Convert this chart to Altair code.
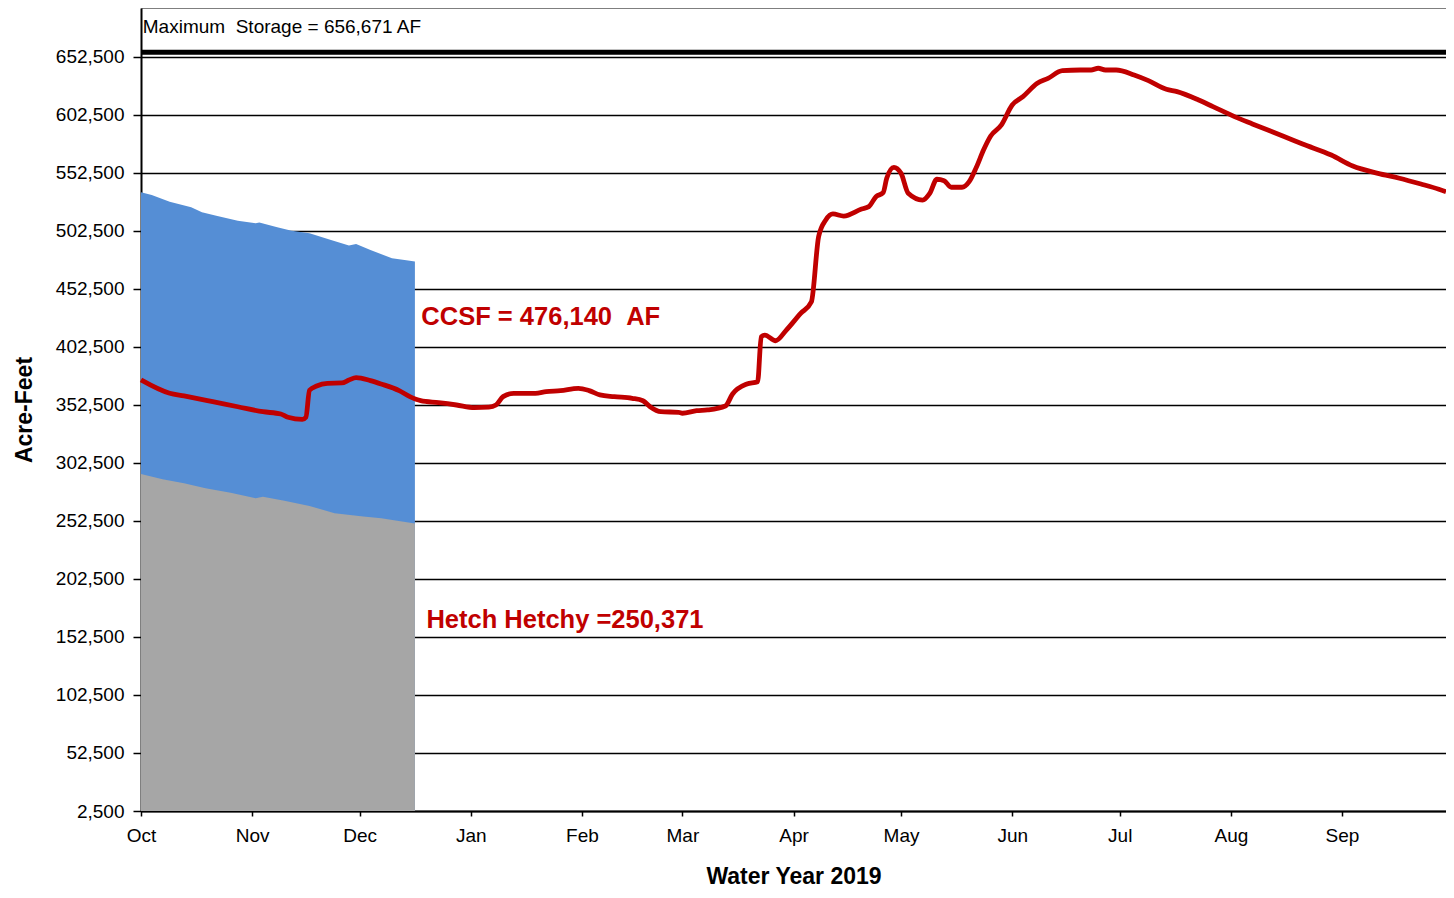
import altair as alt
import pandas as pd

START = pd.Timestamp("2018-10-01")

# CCSF storage line (day offset from Oct 1 2018, acre-feet)
ccsf_day = [0, 8, 12, 20, 27, 34, 39, 41, 45, 46, 47, 49, 52, 56, 58, 60, 64, 67, 72, 75,
            78, 83, 88, 93, 97, 99, 101, 104, 110, 113, 117, 122, 125, 128, 132, 137, 140,
            142, 145, 150, 151, 155, 158, 163, 165, 169, 172, 173, 174, 177, 180, 184, 187,
            189, 191, 193, 196, 201, 203, 205, 207, 208, 210, 212, 214, 218, 220, 222, 224,
            226, 229, 231, 233, 235, 237, 240, 243, 246, 250, 253, 257, 262, 265, 267, 269,
            272, 277, 281, 286, 289, 295, 299, 305, 310, 319, 324, 332, 338, 345, 351, 357,
            362, 364]
ccsf_af = [374100, 362600, 360300, 355400, 351000, 346700, 344700, 341900, 340100, 342000,
           365200, 368900, 371200, 371500, 374000, 376100, 373500, 370600, 364900, 359700,
           356200, 354500, 352500, 350200, 350600, 352500, 359700, 362600, 362600, 364000,
           364900, 366900, 364900, 361200, 359700, 358300, 356200, 351000, 346700, 346200,
           345400, 347600, 348200, 351600, 362000, 370600, 372600, 411400, 412800, 407900,
           417100, 431500, 441500, 497600, 512000, 517200, 515400, 521500, 523500, 532100,
           535500, 547900, 557400, 552200, 535000, 529200, 535000, 547100, 545900, 540200,
           540200, 545000, 557400, 572300, 584400, 593900, 611100, 618300, 629800, 634100,
           640700, 641300, 641300, 642800, 641300, 641300, 637000, 632100, 624700, 622600,
           615400, 609700, 601100, 594800, 583800, 577500, 568000, 558500, 552200, 548000,
           543000, 538500, 536400]

# Blue band top (CCSF total) and gray band top (Hetch Hetchy)
total_day = [0, 3, 8, 14, 17, 21, 27, 32, 33, 38, 42, 47, 53, 58, 60, 64, 70, 74, 76.4]
total_af = [535900, 533500, 527800, 522900, 518600, 515700, 511400, 509100, 509800, 505700,
            502800, 500500, 494700, 489900, 491300, 486100, 479000, 477200, 476140]
hh_day = [0, 6, 12, 18, 25, 32, 34, 40, 47, 54, 62, 67, 76.4]
hh_af = [293000, 288400, 285000, 280700, 276900, 272100, 273500, 270000, 265500, 259200,
         256300, 254900, 250371]

max_storage = 656671
y_ticks = list(range(2500, 652501, 50000))

NBSP = "\u00a0"
max_text = "Maximum" + NBSP + " Storage = 656,671 AF"
red_texts = ["CCSF = 476,140 " + NBSP + "AF", "Hetch Hetchy =250,371"]
red_days = [78.2, 79.6]
red_af = [428400, 167200]
max_text_day = 0.5
max_text_af = 678400


def dates(days):
    return [(START + pd.Timedelta(days=d)).strftime("%Y-%m-%dT%H:%M:%SZ") for d in days]


line_df = pd.DataFrame({"date": dates(ccsf_day), "af": ccsf_af})
total_df = pd.DataFrame({"date": dates(total_day), "af": total_af})
hh_df = pd.DataFrame({"date": dates(hh_day), "af": hh_af})
max_df = pd.DataFrame({"af": [max_storage]})
red_df = pd.DataFrame({"date": dates(red_days), "af": red_af, "text": red_texts})
maxt_df = pd.DataFrame({"date": dates([max_text_day]), "af": [max_text_af], "text": [max_text]})

FONT = "Liberation Sans"

xscale = alt.Scale(type="utc", domain=[alt.DateTime(year=2018, month=10, date=1, utc=True),
                                       alt.DateTime(year=2019, month=9, date=30, utc=True)])
yscale = alt.Scale(domain=[2500, 694741], nice=False, zero=False)

xenc = alt.X("date:T", scale=xscale, title="Water Year 2019",
             axis=alt.Axis(labelExpr="utcFormat(datum.value, '%b')",
                           tickCount=alt.TimeIntervalStep(interval="month", step=1),
                           grid=False, domainColor="black", domainWidth=2,
                           tickColor="black", tickWidth=1.5, tickSize=5,
                           labelPadding=10, labelFontSize=19, labelFont=FONT,
                           labelColor="black", labelAlign="center",
                           titleFont=FONT, titleFontSize=23, titleFontWeight="bold",
                           titleColor="black", titlePadding=20))
yenc = alt.Y("af:Q", scale=yscale, title="Acre-Feet",
             axis=alt.Axis(values=y_ticks, labelExpr="format(datum.value, ',')",
                           grid=True, gridColor="black",
                           gridWidth=1.5, domainColor="black", domainWidth=2,
                           tickColor="black", tickWidth=1.5, tickSize=8,
                           labelPadding=9, labelFontSize=19, labelFont=FONT,
                           labelColor="black",
                           titleFont=FONT, titleFontSize=23, titleFontWeight="bold",
                           titleColor="black", titlePadding=19))

blue = alt.Chart(total_df).mark_area(color="#558ed5", opacity=1, clip=True).encode(
    x=xenc, y=yenc)
gray = alt.Chart(hh_df).mark_area(color="#a6a6a6", opacity=1, clip=True).encode(
    x="date:T", y="af:Q")
line = alt.Chart(line_df).mark_line(color="#c00000", strokeWidth=4.8,
                                    interpolate="monotone").encode(x="date:T", y="af:Q")
maxrule = alt.Chart(max_df).mark_rule(color="black", strokeWidth=5).encode(y="af:Q")
red_text = alt.Chart(red_df).mark_text(align="left", baseline="middle", font=FONT,
                                       fontSize=25.5, fontWeight="bold", color="#c00000").encode(
    x="date:T", y="af:Q", text="text:N")
max_label = alt.Chart(maxt_df).mark_text(align="left", baseline="middle", font=FONT,
                                         fontSize=19, color="black").encode(
    x="date:T", y="af:Q", text="text:N")

chart = alt.layer(blue, gray, maxrule, line, red_text, max_label).properties(
    width=1305, height=803,
    background="white",
    autosize=alt.AutoSizeParams(type="none"),
    padding={"left": 133, "top": 0, "right": 0, "bottom": 79},
).configure_view(stroke="#7f7f7f", strokeWidth=1)

chart.save("out.html", embed_options={"renderer": "svg", "actions": False})
